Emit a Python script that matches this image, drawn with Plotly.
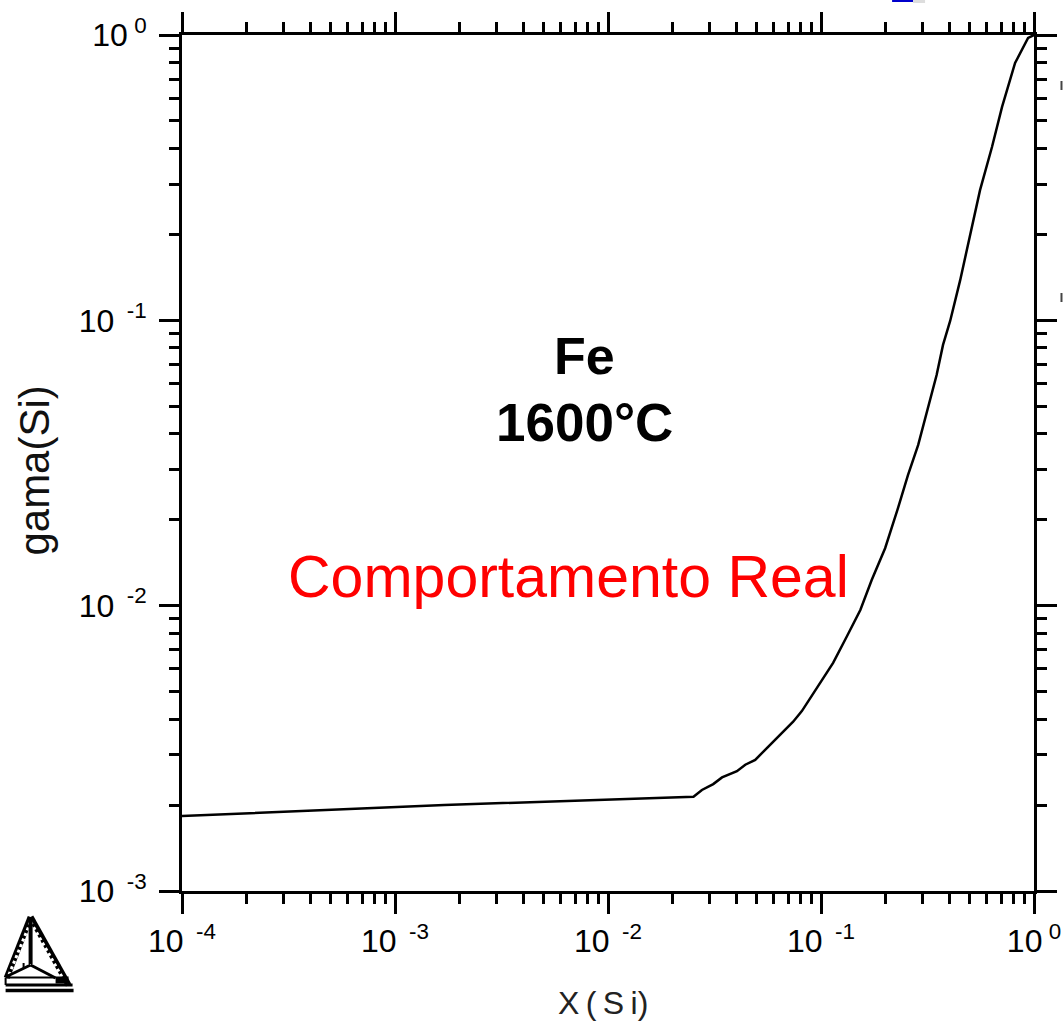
import plotly.graph_objects as go

x_si = [1e-4, 2.75e-4, 6.95e-4, 1.705e-3, 4.31e-3, 0.01094, 0.02328, 0.0252, 0.0276, 0.0312, 0.0343, 0.0403,
        0.0441, 0.0491, 0.0557, 0.0643, 0.074, 0.0813, 0.0955, 0.114, 0.132, 0.153, 0.173, 0.2, 0.23, 0.256,
        0.286, 0.318, 0.349, 0.374, 0.404, 0.45, 0.513, 0.558, 0.635, 0.708, 0.815, 0.938, 1.0]
gama_si = [1.832e-3, 1.895e-3, 1.946e-3, 2.001e-3, 2.05e-3, 2.10e-3, 2.135e-3, 2.14e-3, 2.26e-3, 2.37e-3, 2.50e-3,
           2.63e-3, 2.77e-3, 2.88e-3, 3.17e-3, 3.52e-3, 3.92e-3, 4.27e-3, 5.15e-3, 6.30e-3, 7.78e-3, 9.66e-3,
           0.0123, 0.0159, 0.022, 0.0287, 0.0366, 0.0493, 0.0643, 0.082, 0.0995, 0.138, 0.212, 0.286, 0.405,
           0.56, 0.798, 0.976, 1.0]
x_major = [1e-4, 1e-3, 1e-2, 1e-1, 1]
x_labels = ["10<sup>\u00a0\u00a0-4</sup>", "10<sup>\u00a0\u00a0-3</sup>", "10<sup>\u00a0\u00a0-2</sup>",
            "10<sup>\u00a0\u00a0-1</sup>", "10<sup>\u00a00</sup>"]
y_major = [1e-3, 1e-2, 1e-1, 1]
y_labels = ["10<sup>\u00a0\u00a0-3</sup>", "10<sup>\u00a0\u00a0-2</sup>", "10<sup>\u00a0\u00a0-1</sup>",
            "10<sup>\u00a00</sup>"]
minor_mult = [2, 3, 4, 5, 6, 7, 8, 9]
x_minor = [d * m for d in x_major[:-1] for m in minor_mult]
y_minor = [d * m for d in y_major[:-1] for m in minor_mult]

W, H = 1063, 1021
L, R, T, B = 181.5, 1034, 35, 891
FONT = "Liberation Sans, Arial, sans-serif"

fig = go.Figure(go.Scatter(x=x_si, y=gama_si, mode="lines", line=dict(color="black", width=2.5), showlegend=False))

axis = dict(type="log", showgrid=False, zeroline=False, showline=True, linecolor="black", linewidth=3,
            mirror="ticks", ticks="outside", ticklen=20, tickwidth=3, tickcolor="black", automargin=False,
            tickfont=dict(family=FONT, size=32, color="black"))
fig.update_xaxes(range=[-4, 0], tickmode="array", tickvals=x_major, ticktext=x_labels, tickangle=0,
                 minor=dict(tickmode="array", tickvals=x_minor, ticks="outside", ticklen=10, tickwidth=3, tickcolor="black"),
                 **axis)
fig.update_yaxes(range=[-3, 0], tickmode="array", tickvals=y_major, ticktext=y_labels, ticklabelstandoff=6,
                 minor=dict(tickmode="array", tickvals=y_minor, ticks="outside", ticklen=10, tickwidth=3, tickcolor="black"),
                 **axis)

def px(x):
    return (x - L) / (R - L)
def py(y):
    return (B - y) / (B - T)

def note(text, x, y, size, color="black", bold=False, angle=0):
    fig.add_annotation(text=f"<b>{text}</b>" if bold else text, xref="paper", yref="paper", x=px(x), y=py(y),
                       xanchor="center", yanchor="middle", showarrow=False, textangle=angle,
                       font=dict(family=FONT, size=size, color=color))

note("Fe", 584, 356, 52, bold=True)
note("1600°C", 584, 422, 53, bold=True)
note("Comportamento Real", 568, 577, 59, color="#ff0000")
note("gama(Si)", 33, 471, 42, color="#111111", angle=-90)
note("X\u2009(\u2009S\u2009i)", 603, 1003, 32, color="#222222")

def seg(x0, y0, x1, y1, width=2, color="black", dash=None):
    fig.add_shape(type="line", xref="paper", yref="paper", x0=px(x0), y0=py(y0), x1=px(x1), y1=py(y1),
                  line=dict(color=color, width=width, dash=dash), layer="above")

# Thermo-Calc style logo, bottom-left
seg(30, 917, 6, 978, 6)
seg(30, 917, 68, 985, 6)
seg(30, 922, 7, 978, 3, "#ffffff", "3px,3px")
seg(30, 922, 66, 985, 3, "#ffffff", "3px,3px")
seg(30, 920, 30, 964, 4)
seg(23, 963, 23, 968, 2)
seg(7, 976, 30, 965, 3)
seg(30, 965, 55, 978, 3)
seg(5, 978, 5, 985, 2)
seg(5, 977.5, 55, 977.5, 2)
seg(5, 985, 72, 985, 3)
seg(55, 980, 68, 980, 7)
seg(5, 990.5, 73, 990.5, 3.5)

# Cropped remnants at the image edges
fig.add_shape(type="rect", xref="paper", yref="paper", x0=px(892), x1=px(913), y0=py(0), y1=py(2),
              fillcolor="#0000cc", line_width=0, layer="above")
fig.add_shape(type="rect", xref="paper", yref="paper", x0=px(913), x1=px(925), y0=py(0), y1=py(3),
              fillcolor="#dddddd", line_width=0, layer="above")
seg(1061.5, 81, 1061.5, 90, 2, "#444444")
seg(1061.5, 293, 1061.5, 302, 2, "#444444")

fig.update_layout(width=W, height=H, autosize=False, paper_bgcolor="white", plot_bgcolor="white",
                  margin=dict(l=L, r=W - R, t=T, b=H - B), showlegend=False)
fig.write_html("out.html", config={"displayModeBar": False},
               post_script="document.body.style.margin='0';document.body.style.overflow='hidden';")
